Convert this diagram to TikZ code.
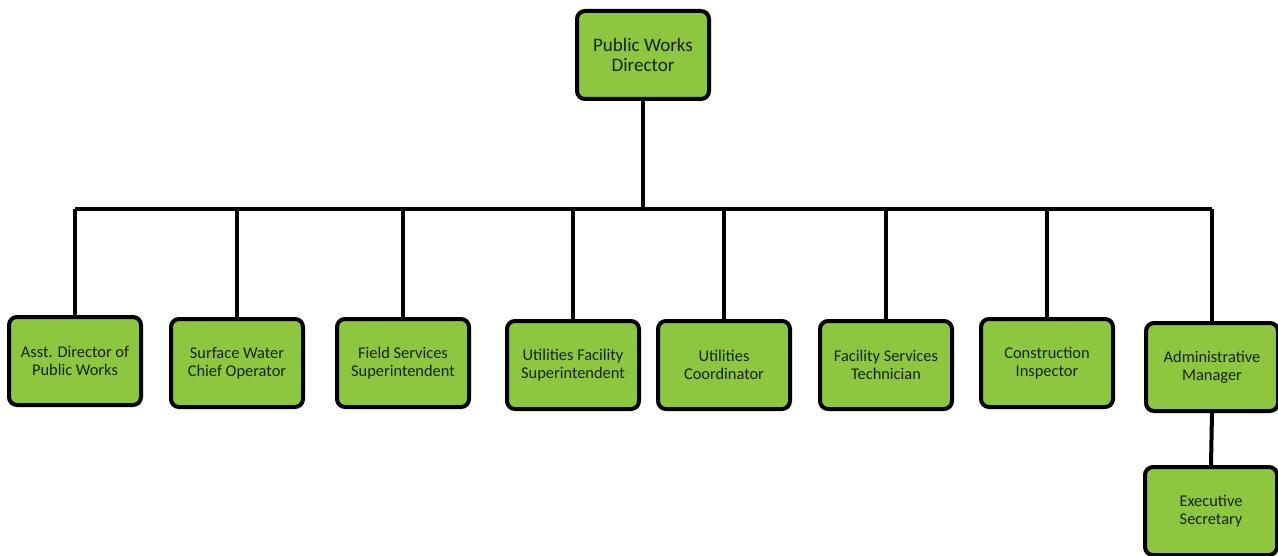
\documentclass[tikz,border=0pt]{standalone}
\usepackage{fontspec}
\setmainfont{Carlito}
\definecolor{boxgreen}{RGB}{141,198,63}
\definecolor{textdark}{RGB}{25,35,15}
\begin{document}
\begin{tikzpicture}[x=0.75pt,y=-0.75pt,
  orgbox/.style={draw=black, line width=3pt, fill=boxgreen, rounded corners=6pt,
    minimum width=99pt, minimum height=66pt, align=center, text=textdark,
    font=\fontsize{12.3}{13.6}\selectfont, inner sep=1pt},
  topbox/.style={orgbox, font=\fontsize{14.3}{15}\selectfont},
  link/.style={draw=black, line width=3pt}]
\useasboundingbox (0,0) rectangle (1278,556);
\node[topbox] (dir) at (643,55) {Public Works\\Director};
\node[orgbox] (c1) at (75,361) {Asst. Director of\\Public Works};
\node[orgbox] (c2) at (237,363) {Surface Water\\Chief Operator};
\node[orgbox] (c3) at (403,363) {Field Services\\Superintendent};
\node[orgbox] (c4) at (573,365) {Utilities Facility\\Superintendent};
\node[orgbox] (c5) at (724,365) {Utilities\\Coordinator};
\node[orgbox] (c6) at (886,365) {Facility Services\\Technician};
\node[orgbox] (c7) at (1047,363) {Construction\\Inspector};
\node[orgbox] (c8) at (1212,367) {Administrative\\Manager};
\node[orgbox] (c9) at (1211,511) {Executive\\Secretary};
\coordinate (bus) at (643,209);
\draw[link] (dir.south) -- (bus);
\draw[link] (c1.north |- bus) -- (c8.north |- bus);
\foreach \c in {c1,c2,c3,c4,c5,c6,c7,c8}{
  \draw[link] (\c.north) -- (\c.north |- bus);
}
\draw[link] (c8.south) -- (c9.north);
\end{tikzpicture}
\end{document}
